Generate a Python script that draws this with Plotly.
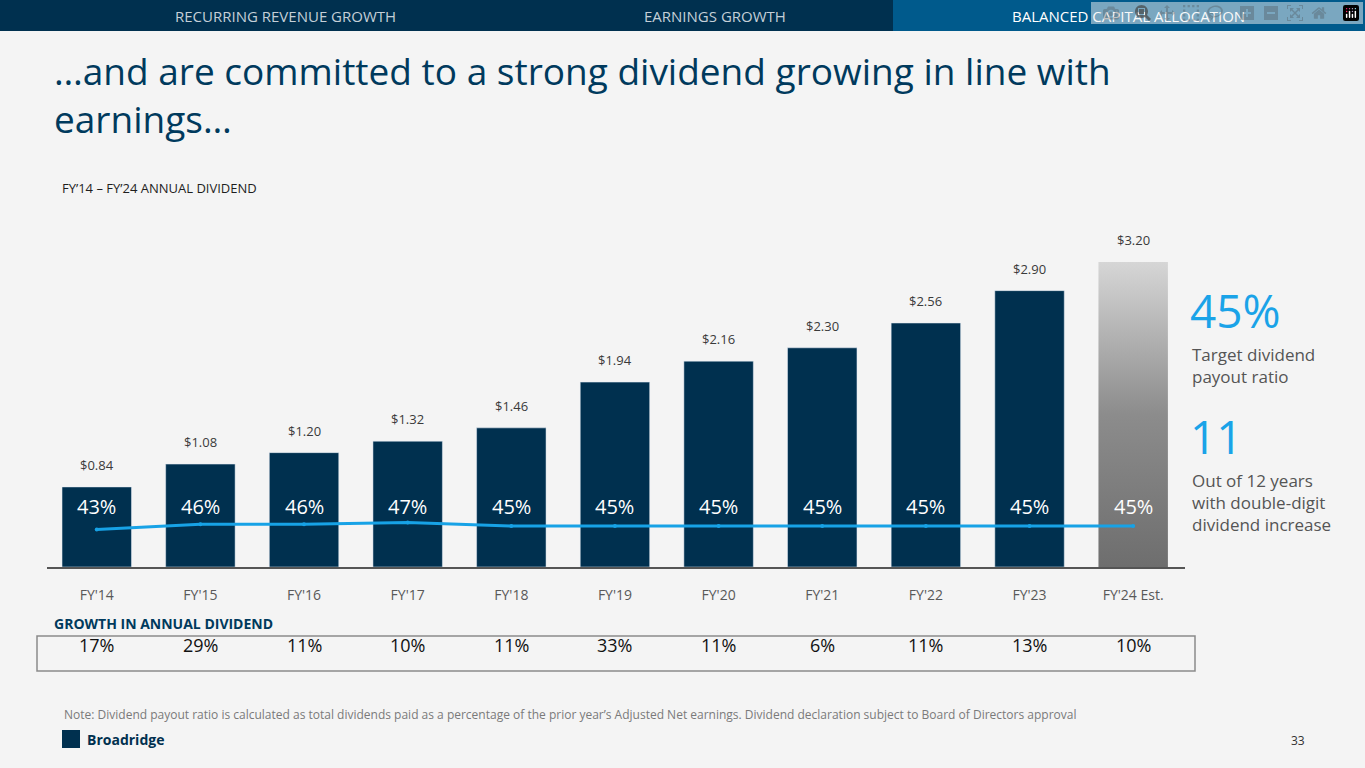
import plotly.graph_objects as go

categories = ["FY'14","FY'15","FY'16","FY'17","FY'18","FY'19","FY'20","FY'21","FY'22","FY'23","FY'24 Est."]
dividend = [0.84,1.08,1.20,1.32,1.46,1.94,2.16,2.30,2.56,2.90,3.20]
payout = [43,46,46,47,45,45,45,45,45,45,45]
growth = ["17%","29%","11%","10%","11%","33%","11%","6%","11%","13%","10%"]

W, H = 1365, 768
def py(p): return 1 - p / H
def px(p): return p / W

idx = list(range(len(categories)))
bw = 0.67
fig = go.Figure()
fig.add_bar(x=idx[:-1], y=dividend[:-1], width=bw, marker_color="#00304f", hoverinfo="skip")
i = idx[-1]; v = dividend[-1]
fig.add_scatter(x=[i-bw/2, i+bw/2, i+bw/2, i-bw/2, i-bw/2], y=[0, 0, v, v, 0],
                mode="lines", line=dict(width=0), fill="toself",
                fillgradient=dict(type="vertical", colorscale=[[0, "#6e6e6e"], [0.5, "#8c8c8c"], [1, "#d6d6d6"]]),
                hoverinfo="skip")
fig.add_scatter(x=idx, y=payout, yaxis="y2", mode="lines+markers",
                line=dict(color="#17a2e6", width=3), marker=dict(size=4, color="#17a2e6"), hoverinfo="skip")

ann = []
for k, (c, d, p, g) in enumerate(zip(categories, dividend, payout, growth)):
    ann.append(dict(x=k, y=d, text=f"${d:.2f}", showarrow=False, yshift=22, font=dict(size=13, color="#3a3a3a")))
    ann.append(dict(x=k, y=0.63, text=f"{p}%", showarrow=False, font=dict(size=20, color="white")))
    ann.append(dict(x=k, y=py(659), yref="paper", text=g, showarrow=False, font=dict(size=18, color="#111111")))

F = "Open Sans, Noto Sans, sans-serif"
def t(x, y, text, size, color, anchor="left", **kw):
    ann.append(dict(x=px(x), y=py(y), xref="paper", yref="paper", text=text, showarrow=False,
                    xanchor=anchor, yanchor="middle", align="left", font=dict(size=size, color=color, family=F), **kw))

t(285, 16, "RECURRING REVENUE GROWTH", 15, "#c4cfd8", "center")
t(715, 16, "EARNINGS GROWTH", 15, "#c4cfd8", "center")
t(1128, 16, "BALANCED CAPITAL ALLOCATION", 15, "#ffffff", "center")
t(52, 95, "…and are committed to a strong dividend growing in line with<br>earnings…", 37, "#003a5d")
t(60, 188, "FY’14 – FY’24 ANNUAL DIVIDEND", 13, "#1e1e1e")
t(52, 623, "<b>GROWTH IN ANNUAL DIVIDEND</b>", 14, "#003a5d")
t(1188, 310, "45%", 46, "#1aa3e8")
t(1190, 365, "Target dividend<br>payout ratio", 17, "#555555")
t(1188, 436, "11", 46, "#1aa3e8")
t(1190, 502, "Out of 12 years<br>with double-digit<br>dividend increase", 17, "#555555")
t(62, 714, "Note: Dividend payout ratio is calculated as total dividends paid as a percentage of the prior year’s Adjusted Net earnings. Dividend declaration subject to Board of Directors approval", 12, "#7a7a7a")
t(85, 739, "<b>Broadridge</b>", 14, "#00304f")
t(1307, 740, "33", 12, "#333333", "right")

shapes = [
    dict(type="rect", xref="paper", yref="paper", x0=0, x1=px(893), y0=py(31), y1=1, fillcolor="#00304f", line_width=0, layer="below"),
    dict(type="rect", xref="paper", yref="paper", x0=px(893), x1=1, y0=py(31), y1=1, fillcolor="#005a8c", line_width=0, layer="below"),
    dict(type="rect", xref="paper", yref="paper", x0=px(37), x1=px(1195), y0=py(671), y1=py(636), line=dict(color="#8a8a8a", width=1.5)),
    dict(type="rect", xref="paper", yref="paper", x0=px(62), x1=px(80), y0=py(748), y1=py(730), fillcolor="#00304f", line_width=0),
]

fig.update_layout(
    width=W, height=H, margin=dict(l=0, r=0, t=0, b=0), showlegend=False,
    paper_bgcolor="#f4f4f4", plot_bgcolor="#f4f4f4", font=dict(family=F),
    xaxis=dict(domain=[px(47), px(1185)], range=[-0.48, 10.5], tickvals=idx, ticktext=categories,
               showgrid=False, zeroline=False, showline=True, linecolor="#555555", linewidth=1.5,
               ticks="", ticklabelstandoff=14, tickfont=dict(size=14, color="#595959")),
    yaxis=dict(domain=[py(567), py(200)], range=[0, 367/95.3], visible=False),
    yaxis2=dict(domain=[py(567), py(200)], overlaying="y", range=[45-41/1.75, 45+326/1.75], visible=False),
    annotations=ann, shapes=shapes,
)
fig.write_html("out.html", post_script="document.body.style.margin='0';document.body.style.background='#f4f4f4';")
